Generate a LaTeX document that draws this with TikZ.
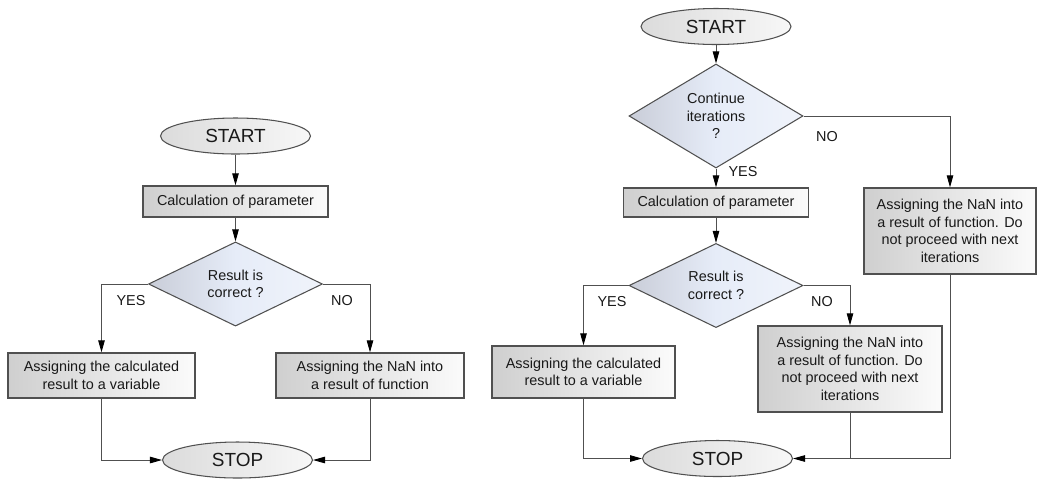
\documentclass[tikz,border=0pt]{standalone}
\usepackage{fontspec}
\setmainfont{Liberation Sans}
\usetikzlibrary{shapes,arrows.meta,positioning,calc}

\definecolor{linegray}{HTML}{505050}
\definecolor{boxgray}{HTML}{CFCFCF}
\definecolor{diagray}{HTML}{C9CDD8}
\definecolor{diablue}{HTML}{E6ECF8}

\begin{document}
\begin{tikzpicture}[x=0.02cm, y=-0.02cm,
    every node/.style={font=\fontsize{8.2}{10}\selectfont, text=black!90},
    terminal/.style={ellipse, draw=linegray, line width=0.6pt, left color=gray!28, right color=gray!6,
        minimum width=3cm, minimum height=0.72cm, inner sep=0pt, font=\fontsize{10.8}{12}\selectfont},
    process/.style={rectangle, draw=linegray, line width=0.8pt, left color=boxgray, right color=gray!3,
        align=center, inner sep=0pt},
    decision/.style={diamond, draw=linegray, line width=0.6pt, left color=diagray, right color=diablue!60!white,
        middle color=diablue, align=center, inner sep=0pt, minimum width=3.48cm, minimum height=1.64cm},
    flow/.style={draw=linegray, line width=0.5pt, -{Triangle[length=2.4mm,width=1.3mm,color=black]}},
    link/.style={draw=linegray, line width=0.5pt}
]
    \useasboundingbox (0,0) rectangle (1037,478);

    % Left chart
    \node[terminal] (startA) at (235.5,136) {START};
    \node[process, minimum width=3.7cm, minimum height=0.62cm] (calcA) at (235.5,201.5) {Calculation of parameter};
    \node[decision] (checkA) at (235.5,284) {Result is\\correct ?};
    \node[process, minimum width=3.74cm, minimum height=0.9cm] (okA) at (101.5,375.5) {Assigning the calculated\\result to a variable};
    \node[process, minimum width=3.76cm, minimum height=0.9cm] (nanA) at (370,375.5) {Assigning the NaN into\\a result of function};
    \node[terminal] (stopA) at (237.5,460) {STOP};

    \node (yesA) at (131,301) {YES};
    \node (noA) at (342,301) {NO};

    \draw[flow] (startA) -- (calcA);
    \draw[flow] (calcA) -- (checkA);
    \draw[flow] (checkA.west) -| (okA.north);
    \draw[flow] (checkA.east) -| (nanA.north);
    \draw[flow] (okA.south) |- (stopA.west);
    \draw[flow] (nanA.south) |- (stopA.east);

    % Right chart
    \node[terminal] (startB) at (716,26.5) {START};
    \node[decision] (iterB) at (716,116) {Continue\\iterations\\?};
    \node[process, minimum width=3.44cm, minimum height=1.72cm] (stopitB) at (950,231) {Assigning the NaN into\\a result of function. Do\\not proceed with next\\iterations};
    \node[process, minimum width=3.7cm, minimum height=0.58cm] (calcB) at (716,202.5) {Calculation of parameter};
    \node[decision] (checkB) at (716,285.5) {Result is\\correct ?};
    \node[process, minimum width=3.66cm, minimum height=1.04cm] (okB) at (583.5,372) {Assigning the calculated\\result to a variable};
    \node[process, minimum width=3.68cm, minimum height=1.72cm] (nanB) at (850,369) {Assigning the NaN into\\a result of function. Do\\not proceed with next\\iterations};
    \node[terminal] (stopB) at (717.5,458.5) {STOP};

    \node (yesB) at (743,172) {YES};
    \node (noB) at (827,137) {NO};
    \node (yesC) at (612,302) {YES};
    \node (noC) at (822,302) {NO};

    \draw[flow] (startB) -- (iterB);
    \draw[flow] (iterB) -- (calcB);
    \draw[flow] (iterB.east) -| (stopitB.north);
    \draw[flow] (calcB) -- (checkB);
    \draw[flow] (checkB.west) -| (okB.north);
    \draw[flow] (checkB.east) -| (nanB.north);
    \draw[flow] (okB.south) |- (stopB.west);
    \draw[flow] (nanB.south) |- (stopB.east);
    \coordinate (joinB) at (nanB.south |- stopB.east);
    \draw[link] (stopitB.south) |- (joinB);
\end{tikzpicture}
\end{document}
